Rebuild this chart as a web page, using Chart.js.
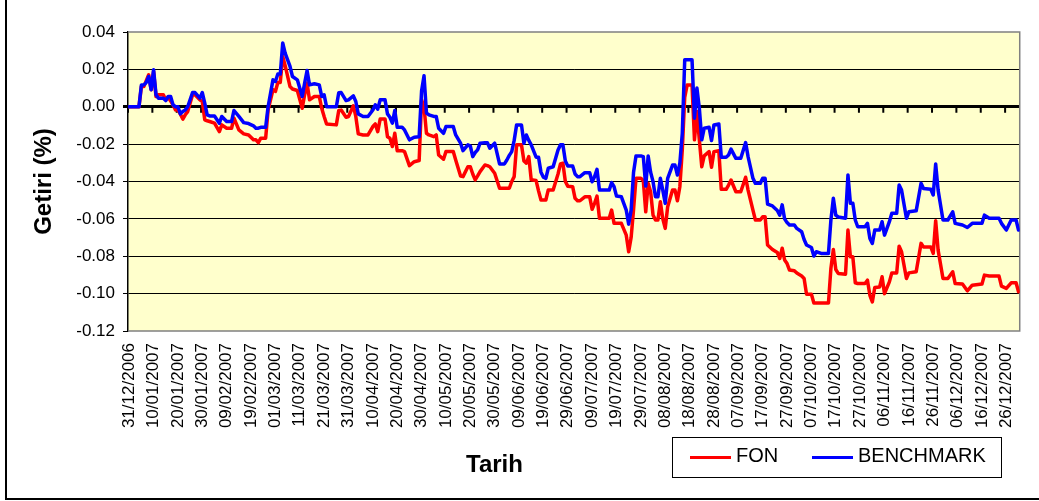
<!DOCTYPE html>
<html>
<head>
<meta charset="utf-8">
<title>FON / BENCHMARK</title>
<script src="https://cdn.jsdelivr.net/npm/chart.js@4.4.1/dist/chart.umd.min.js"></script>
<style>
    html, body { margin: 0; padding: 0; background: #fff; overflow: hidden; }
    body { width: 1039px; height: 501px; position: relative; font-family: "Liberation Sans", Arial, sans-serif; }
    #mainChart { position: absolute; left: 0; top: 0; }
    .frame { position: absolute; left: 5px; top: -10px; width: 1200px; height: 510px; box-sizing: border-box; border: 2px solid #000; pointer-events: none; }
    .x-title { position: absolute; left: 466px; top: 452px; font-size: 24px; line-height: 24px; font-weight: bold; color: #000; }
    .legend { position: absolute; left: 672px; top: 437px; width: 330px; height: 41px; box-sizing: border-box; border: 1px solid #000; background: #fff; }
    .legend .swatch { position: absolute; top: 18px; width: 41px; height: 3px; }
    .legend .label { position: absolute; top: 7px; font-size: 20px; line-height: 20px; color: #000; white-space: nowrap; }
</style>
</head>
<body>
<canvas id="mainChart" width="1039" height="501"></canvas>
<div class="frame"></div>
<div class="x-title">Tarih</div>
<div class="legend" id="legend"></div>

<script>
// Tick labels (every 10th day, 31/12/2006 .. 26/12/2007)
const tickLabels = [
    '31/12/2006', '10/01/2007', '20/01/2007', '30/01/2007', '09/02/2007', '19/02/2007',
    '01/03/2007', '11/03/2007', '21/03/2007', '31/03/2007', '10/04/2007', '20/04/2007',
    '30/04/2007', '10/05/2007', '20/05/2007', '30/05/2007', '09/06/2007', '19/06/2007',
    '29/06/2007', '09/07/2007', '19/07/2007', '29/07/2007', '08/08/2007', '18/08/2007',
    '28/08/2007', '07/09/2007', '17/09/2007', '27/09/2007', '07/10/2007', '17/10/2007',
    '27/10/2007', '06/11/2007', '16/11/2007', '26/11/2007', '06/12/2007', '16/12/2007',
    '26/12/2007'
];
const tickDays = tickLabels.map((_, i) => i * 10);

// Day offset from 31/12/2006 for each reading
const days = [
    0, 4, 5, 6, 7, 8, 9, 10, 11, 12,
    14, 15, 16, 17, 18, 19, 20, 21, 22, 23,
    24, 26, 27, 29, 30, 31, 32, 33, 35, 37,
    38, 40, 42, 43, 45, 47, 49, 51, 52, 53,
    54, 56, 57, 59, 60, 61, 62, 63, 64, 66,
    67, 69, 71, 72, 73, 74, 76, 78, 79, 80,
    81, 85, 86, 87, 89, 90, 92, 93, 94, 96,
    98, 100, 101, 102, 103, 105, 106, 107, 108, 109,
    110, 112, 113, 115, 117, 119, 120, 121, 122, 123,
    125, 126, 127, 129, 130, 133, 134, 136, 137, 139,
    140, 141, 142, 143, 144, 146, 147, 148, 150, 152,
    154, 155, 156, 157, 158, 159, 161, 162, 163, 164,
    165, 167, 168, 169, 170, 171, 172, 174, 176, 177,
    178, 179, 180, 182, 183, 184, 185, 187, 189, 190,
    191, 192, 193, 197, 198, 199, 200, 202, 204, 205,
    206, 207, 208, 210, 211, 212, 213, 214, 215, 216,
    217, 218, 219, 220, 221, 223, 224, 225, 226, 227,
    228, 229, 231, 232, 233, 234, 235, 236, 238, 239,
    240, 242, 243, 245, 246, 247, 249, 251, 253, 254,
    256, 257, 259, 260, 261, 262, 264, 266, 267, 268,
    269, 270, 271, 273, 274, 276, 277, 278, 280, 281,
    282, 284, 287, 288, 289, 290, 291, 294, 295, 296,
    297, 298, 299, 302, 303, 304, 305, 306, 308, 309,
    310, 312, 313, 315, 316, 317, 319, 320, 323, 325,
    326, 329, 330, 331, 332, 334, 336, 338, 339, 342,
    344, 346, 350, 351, 353, 357, 358, 360, 362, 364,
    365
];

const fon = [
    0, 0, 0.0108, 0.0108, 0.0140, 0.0171, 0.0091, 0.0189, 0.0055, 0.0064,
    0.0064, 0.0037, 0.0051, 0.0030, 0.0010, -0.0017, -0.0017, -0.0040, -0.0066, -0.0043,
    -0.0026, 0.0064, 0.0064, 0.0037, 0.0028, -0.0070, -0.0075, -0.0079, -0.0088, -0.0133,
    -0.0097, -0.0115, -0.0115, -0.0061, -0.0124, -0.0145, -0.0151, -0.0177, -0.0177, -0.0192,
    -0.0168, -0.0168, -0.0017, 0.0091, 0.0082, 0.0130, 0.0130, 0.0269, 0.0220, 0.0108,
    0.0095, 0.0087, -0.0008, 0.0064, 0.0127, 0.0037, 0.0055, 0.0055, -0.0008, -0.0052,
    -0.0092, -0.0097, -0.0020, -0.0018, -0.0056, -0.0052, 0.0005, -0.0052, -0.0145, -0.0151,
    -0.0151, -0.0106, -0.0092, -0.0133, -0.0066, -0.0066, -0.0160, -0.0168, -0.0213, -0.0142,
    -0.0235, -0.0235, -0.0240, -0.0315, -0.0294, -0.0288, 0.0037, 0.0000, -0.0142, -0.0151,
    -0.0160, -0.0151, -0.0258, -0.0281, -0.0240, -0.0240, -0.0285, -0.0371, -0.0374, -0.0321,
    -0.0321, -0.0360, -0.0391, -0.0370, -0.0347, -0.0312, -0.0315, -0.0321, -0.0356, -0.0436,
    -0.0436, -0.0436, -0.0436, -0.0400, -0.0374, -0.0204, -0.0204, -0.0290, -0.0302, -0.0267,
    -0.0391, -0.0395, -0.0450, -0.0499, -0.0499, -0.0499, -0.0445, -0.0445, -0.0360, -0.0306,
    -0.0302, -0.0400, -0.0425, -0.0428, -0.0490, -0.0503, -0.0503, -0.0482, -0.0482, -0.0549,
    -0.0517, -0.0478, -0.0597, -0.0597, -0.0553, -0.0624, -0.0624, -0.0624, -0.0687, -0.0776,
    -0.0700, -0.0550, -0.0383, -0.0383, -0.0395, -0.0562, -0.0410, -0.0455, -0.0580, -0.0606,
    -0.0606, -0.0508, -0.0600, -0.0651, -0.0535, -0.0446, -0.0446, -0.0503, -0.0428, -0.0231,
    0.0050, 0.0117, 0.0117, -0.0177, -0.0026, -0.0177, -0.0321, -0.0263, -0.0240, -0.0324,
    -0.0240, -0.0235, -0.0442, -0.0442, -0.0419, -0.0392, -0.0455, -0.0455, -0.0377, -0.0446,
    -0.0553, -0.0606, -0.0606, -0.0589, -0.0589, -0.0740, -0.0764, -0.0780, -0.0812, -0.0757,
    -0.0820, -0.0839, -0.0874, -0.0878, -0.0890, -0.0906, -0.0919, -0.1003, -0.1003, -0.1050,
    -0.1050, -0.1050, -0.1050, -0.0865, -0.0764, -0.0871, -0.0892, -0.0896, -0.0660, -0.0803,
    -0.0803, -0.0942, -0.0946, -0.0946, -0.0928, -0.1009, -0.1044, -0.0967, -0.0964, -0.0910,
    -0.1000, -0.0937, -0.0889, -0.0889, -0.0746, -0.0776, -0.0919, -0.0889, -0.0883, -0.0731,
    -0.0750, -0.0750, -0.0785, -0.0610, -0.0767, -0.0919, -0.0919, -0.0883, -0.0946, -0.0949,
    -0.0985, -0.0955, -0.0949, -0.0901, -0.0906, -0.0906, -0.0960, -0.0972, -0.0942, -0.0942,
    -0.0990
];

const benchmark = [
    0, 0, 0.0117, 0.0117, 0.0130, 0.0162, 0.0091, 0.0198, 0.0064, 0.0046,
    0.0046, 0.0033, 0.0055, 0.0055, 0.0010, 0, 0, -0.0038, -0.0025, -0.0017,
    0, 0.0076, 0.0076, 0.0046, 0.0076, 0.0019, -0.0043, -0.0049, -0.0049, -0.0088,
    -0.0052, -0.0079, -0.0079, -0.0020, -0.0052, -0.0085, -0.0090, -0.0102, -0.0115, -0.0115,
    -0.0110, -0.0110, 0, 0.0144, 0.0135, 0.0175, 0.0175, 0.0341, 0.0287, 0.0216,
    0.0162, 0.0144, 0.0055, 0.0127, 0.0194, 0.0117, 0.0123, 0.0117, 0.0055, 0.0064,
    0, 0, 0.0075, 0.0076, 0.0033, 0.0037, 0.0058, 0.0028, -0.0038, -0.0052,
    -0.0052, -0.0017, 0.0010, -0.0013, 0.0037, 0.0037, -0.0038, -0.0056, -0.0088, -0.0020,
    -0.0110, -0.0110, -0.0124, -0.0177, -0.0163, -0.0160, 0.0085, 0.0166, -0.0034, -0.0043,
    -0.0052, -0.0052, -0.0115, -0.0142, -0.0106, -0.0106, -0.0151, -0.0195, -0.0235, -0.0204,
    -0.0210, -0.0267, -0.0245, -0.0231, -0.0195, -0.0192, -0.0192, -0.0222, -0.0195, -0.0306,
    -0.0306, -0.0285, -0.0260, -0.0240, -0.0180, -0.0097, -0.0097, -0.0195, -0.0151, -0.0180,
    -0.0204, -0.0270, -0.0270, -0.0350, -0.0377, -0.0383, -0.0329, -0.0321, -0.0231, -0.0204,
    -0.0204, -0.0290, -0.0317, -0.0317, -0.0360, -0.0374, -0.0374, -0.0353, -0.0353, -0.0401,
    -0.0374, -0.0335, -0.0446, -0.0446, -0.0406, -0.0428, -0.0478, -0.0482, -0.0553, -0.0628,
    -0.0553, -0.0350, -0.0263, -0.0263, -0.0267, -0.0424, -0.0263, -0.0350, -0.0401, -0.0482,
    -0.0482, -0.0383, -0.0446, -0.0517, -0.0383, -0.0312, -0.0312, -0.0365, -0.0302, -0.0142,
    0.0251, 0.0251, 0.0251, -0.0061, 0.0100, -0.0008, -0.0177, -0.0115, -0.0110, -0.0181,
    -0.0097, -0.0092, -0.0270, -0.0270, -0.0258, -0.0227, -0.0276, -0.0276, -0.0192, -0.0267,
    -0.0383, -0.0410, -0.0410, -0.0383, -0.0383, -0.0521, -0.0531, -0.0555, -0.0580, -0.0525,
    -0.0600, -0.0620, -0.0633, -0.0633, -0.0651, -0.0669, -0.0710, -0.0740, -0.0753, -0.0799,
    -0.0776, -0.0785, -0.0785, -0.0606, -0.0490, -0.0580, -0.0590, -0.0597, -0.0365, -0.0517,
    -0.0517, -0.0606, -0.0642, -0.0642, -0.0624, -0.0705, -0.0731, -0.0660, -0.0660, -0.0615,
    -0.0687, -0.0615, -0.0570, -0.0570, -0.0419, -0.0446, -0.0597, -0.0562, -0.0557, -0.0410,
    -0.0437, -0.0442, -0.0472, -0.0306, -0.0446, -0.0606, -0.0606, -0.0562, -0.0624, -0.0633,
    -0.0646, -0.0624, -0.0624, -0.0580, -0.0597, -0.0597, -0.0624, -0.0660, -0.0606, -0.0606,
    -0.0660
];

const seriesNames = ['FON', 'BENCHMARK'];
const seriesColors = ['#FF0000', '#0000FF'];

if (days.length !== fon.length || days.length !== benchmark.length) {
    console.error('length mismatch', days.length, fon.length, benchmark.length);
}

Chart.defaults.font.family = '"Liberation Sans", Arial, sans-serif';
Chart.defaults.color = '#000';

// Yellow plot area, grey frame and the small tick marks on the zero line
const plotFrame = {
    id: 'plotFrame',
    beforeDraw(chart) {
        const { ctx, chartArea: a } = chart;
        ctx.save();
        ctx.fillStyle = '#FFFFCC';
        ctx.fillRect(a.left, a.top, a.right - a.left, a.bottom - a.top);
        ctx.restore();
    },
    beforeDatasetsDraw(chart) {
        const { ctx, chartArea: a, scales } = chart;
        ctx.save();
        ctx.strokeStyle = '#808080';
        ctx.lineWidth = 1.5;
        ctx.beginPath();
        ctx.moveTo(a.left, a.top);
        ctx.lineTo(a.right, a.top);
        ctx.lineTo(a.right, a.bottom);
        ctx.lineTo(a.left, a.bottom);
        ctx.stroke();

        const y0 = scales.y.getPixelForValue(0);
        ctx.strokeStyle = '#000';
        ctx.lineWidth = 2;
        ctx.beginPath();
        tickDays.forEach(d => {
            const x = scales.x.getPixelForValue(d - 0.5);
            ctx.moveTo(x, y0);
            ctx.lineTo(x, y0 + 6);
        });
        ctx.stroke();
        ctx.restore();
    }
};

const isEdge = v => Math.abs(v - 0.04) < 1e-9 || Math.abs(v + 0.12) < 1e-9;
const isZero = v => Math.abs(v) < 1e-9;

const mainCtx = document.getElementById('mainChart').getContext('2d');

const mainChart = new Chart(mainCtx, {
    type: 'line',
    data: {
        datasets: [
            {
                label: seriesNames[0],
                data: days.map((d, i) => ({ x: d, y: fon[i] })),
                borderColor: seriesColors[0],
                borderWidth: 3.5,
                order: 2
            },
            {
                label: seriesNames[1],
                data: days.map((d, i) => ({ x: d, y: benchmark[i] })),
                borderColor: seriesColors[1],
                borderWidth: 3.5,
                order: 1
            }
        ]
    },
    options: {
        responsive: false,
        animation: false,
        layout: {
            padding: { left: 0, top: 32, right: 18, bottom: 0 }
        },
        elements: {
            line: { tension: 0, borderJoinStyle: 'round', borderCapStyle: 'round', fill: false },
            point: { radius: 0, hoverRadius: 0 }
        },
        plugins: {
            legend: { display: false },
            tooltip: { enabled: false }
        },
        scales: {
            x: {
                type: 'linear',
                min: -0.5,
                max: 365.5,
                afterBuildTicks: scale => {
                    scale.ticks = tickDays.map(v => ({ value: v }));
                },
                afterFit: scale => {
                    scale.height = 170;
                },
                ticks: {
                    autoSkip: false,
                    minRotation: 90,
                    maxRotation: 90,
                    padding: 12,
                    color: '#000',
                    font: { size: 17 },
                    callback: (value, index) => tickLabels[index]
                },
                grid: { display: false, drawTicks: false },
                border: { display: false }
            },
            y: {
                min: -0.12,
                max: 0.04,
                afterFit: scale => {
                    scale.width = 128;
                },
                ticks: {
                    stepSize: 0.02,
                    padding: 8,
                    color: '#000',
                    font: { size: 17 },
                    callback: value => (isZero(value) ? 0 : value).toFixed(2)
                },
                grid: {
                    color: c => (isEdge(c.tick.value) ? 'rgba(0,0,0,0)' : '#000'),
                    lineWidth: c => (isZero(c.tick.value) ? 3 : 1),
                    tickColor: '#000',
                    tickLength: 5
                },
                border: { color: '#000', width: 1.5 },
                title: {
                    display: true,
                    text: 'Getiri (%)',
                    color: '#000',
                    font: { size: 24, weight: 'bold' },
                    padding: { top: 30, bottom: 0 }
                }
            }
        }
    },
    plugins: [plotFrame]
});

// HTML legend built from the datasets
const legendBox = document.getElementById('legend');
const legendPos = [{ swatch: 17, label: 63 }, { swatch: 139, label: 185 }];
mainChart.data.datasets.forEach((ds, i) => {
    const sw = document.createElement('div');
    sw.className = 'swatch';
    sw.style.left = legendPos[i].swatch + 'px';
    sw.style.background = ds.borderColor;
    legendBox.appendChild(sw);

    const lb = document.createElement('div');
    lb.className = 'label';
    lb.style.left = legendPos[i].label + 'px';
    lb.textContent = ds.label;
    legendBox.appendChild(lb);
});
</script>
</body>
</html>
